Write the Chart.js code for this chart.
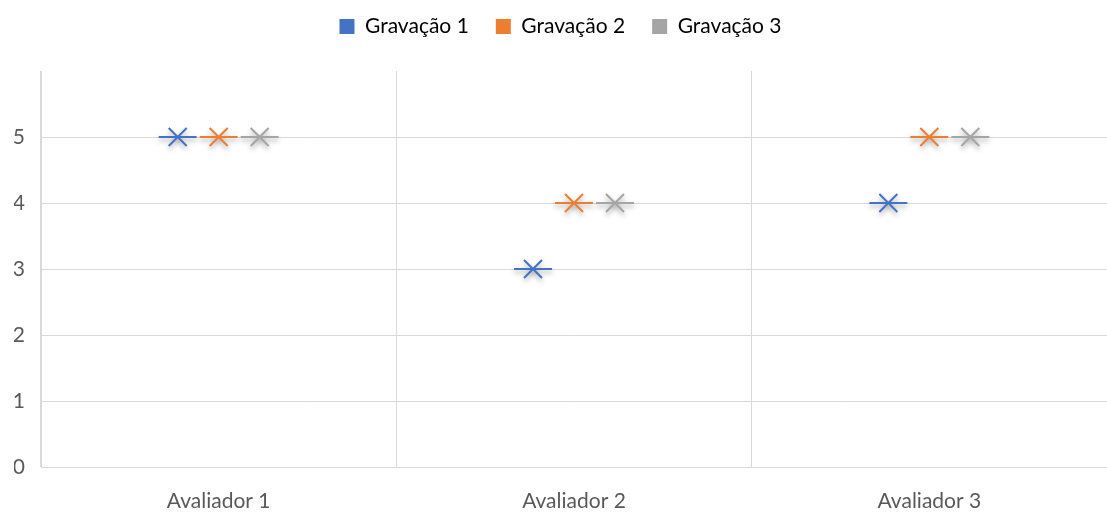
<!DOCTYPE html>
<html>
<head>
<meta charset="utf-8">
<script src="https://cdn.jsdelivr.net/npm/chart.js@4"></script>
<style>
	html, body { margin: 0; padding: 0; background: #fff; }
	#wrap { width: 1107px; height: 515px; }
</style>
</head>
<body>
<div id="wrap"><canvas id="scoreChart"></canvas></div>
<script>
const categories = ['Avaliador 1', 'Avaliador 2', 'Avaliador 3'];
const seriesNames = ['Gravação 1', 'Gravação 2', 'Gravação 3'];
const gravacao1 = [5, 3, 4];
const gravacao2 = [5, 4, 5];
const gravacao3 = [5, 4, 5];
const colors = ['#4472C4', '#ED7D31', '#A5A5A5'];

// draws the excel style "x with a dash" marker on top of each (invisible) bar
const markerPlugin = {
	id: 'markers',
	afterDatasetsDraw(chart) {
		const ctx = chart.ctx;
		chart.data.datasets.forEach(function(ds, i) {
			const meta = chart.getDatasetMeta(i);
			meta.data.forEach(function(bar) {
				ctx.save();
				ctx.strokeStyle = colors[i];
				ctx.lineWidth = 2;
				ctx.shadowColor = 'rgba(0,0,0,0.35)';
				ctx.shadowBlur = 5;
				ctx.shadowOffsetY = 3;
				ctx.beginPath();
				ctx.moveTo(bar.x - 19, bar.y);
				ctx.lineTo(bar.x + 19, bar.y);
				ctx.moveTo(bar.x - 9, bar.y - 9);
				ctx.lineTo(bar.x + 9, bar.y + 9);
				ctx.moveTo(bar.x - 9, bar.y + 9);
				ctx.lineTo(bar.x + 9, bar.y - 9);
				ctx.stroke();
				ctx.restore();
			});
		});
	}
};

// extra room between legend and plot
const legendGap = {
	id: 'legendGap',
	beforeLayout(chart) {
		const lg = chart.legend;
		if (lg && !lg._gapDone) {
			const fit = lg.fit;
			lg.fit = function() {
				fit.call(lg);
				lg.height += 24;
			};
			lg._gapDone = true;
		}
	}
};

Chart.defaults.font.family = 'Lato, "Open Sans", sans-serif';
Chart.defaults.font.size = 21;
Chart.defaults.color = '#595959';

new Chart(document.getElementById('scoreChart'), {
	type: 'bar',
	data: {
		labels: categories,
		datasets: [
			{ label: seriesNames[0], data: gravacao1, backgroundColor: 'rgba(0,0,0,0)' },
			{ label: seriesNames[1], data: gravacao2, backgroundColor: 'rgba(0,0,0,0)' },
			{ label: seriesNames[2], data: gravacao3, backgroundColor: 'rgba(0,0,0,0)' }
		]
	},
	options: {
		responsive: true,
		maintainAspectRatio: false,
		animation: false,
		categoryPercentage: 0.346,
		barPercentage: 1,
		layout: { padding: { left: 14, right: 0, top: -11, bottom: 0 } },
		plugins: {
			tooltip: { enabled: false },
			legend: {
				position: 'top',
				labels: {
					boxWidth: 15,
					boxHeight: 15,
					padding: 27,
					generateLabels: function(chart) {
						return chart.data.datasets.map(function(ds, i) {
							return {
								text: ds.label,
								fillStyle: colors[i],
								strokeStyle: colors[i],
								lineWidth: 0,
								datasetIndex: i
							};
						});
					}
				}
			}
		},
		scales: {
			x: {
				grid: { color: '#d9d9d9', offset: true, drawTicks: false },
				border: { color: '#d9d9d9' },
				ticks: { padding: 22 },
				afterFit: function(s) { s.height = 48; }
			},
			y: {
				min: 0,
				max: 6,
				grid: {
					drawTicks: false,
					color: function(c) { return c.tick && c.tick.value === 6 ? 'rgba(0,0,0,0)' : '#d9d9d9'; }
				},
				border: { color: '#d9d9d9' },
				ticks: {
					stepSize: 1,
					padding: 16,
					callback: function(v) { return v === 6 ? '' : v; }
				},
				afterFit: function(s) { s.width = 27; }
			}
		}
	},
	plugins: [markerPlugin, legendGap]
});
</script>
</body>
</html>
